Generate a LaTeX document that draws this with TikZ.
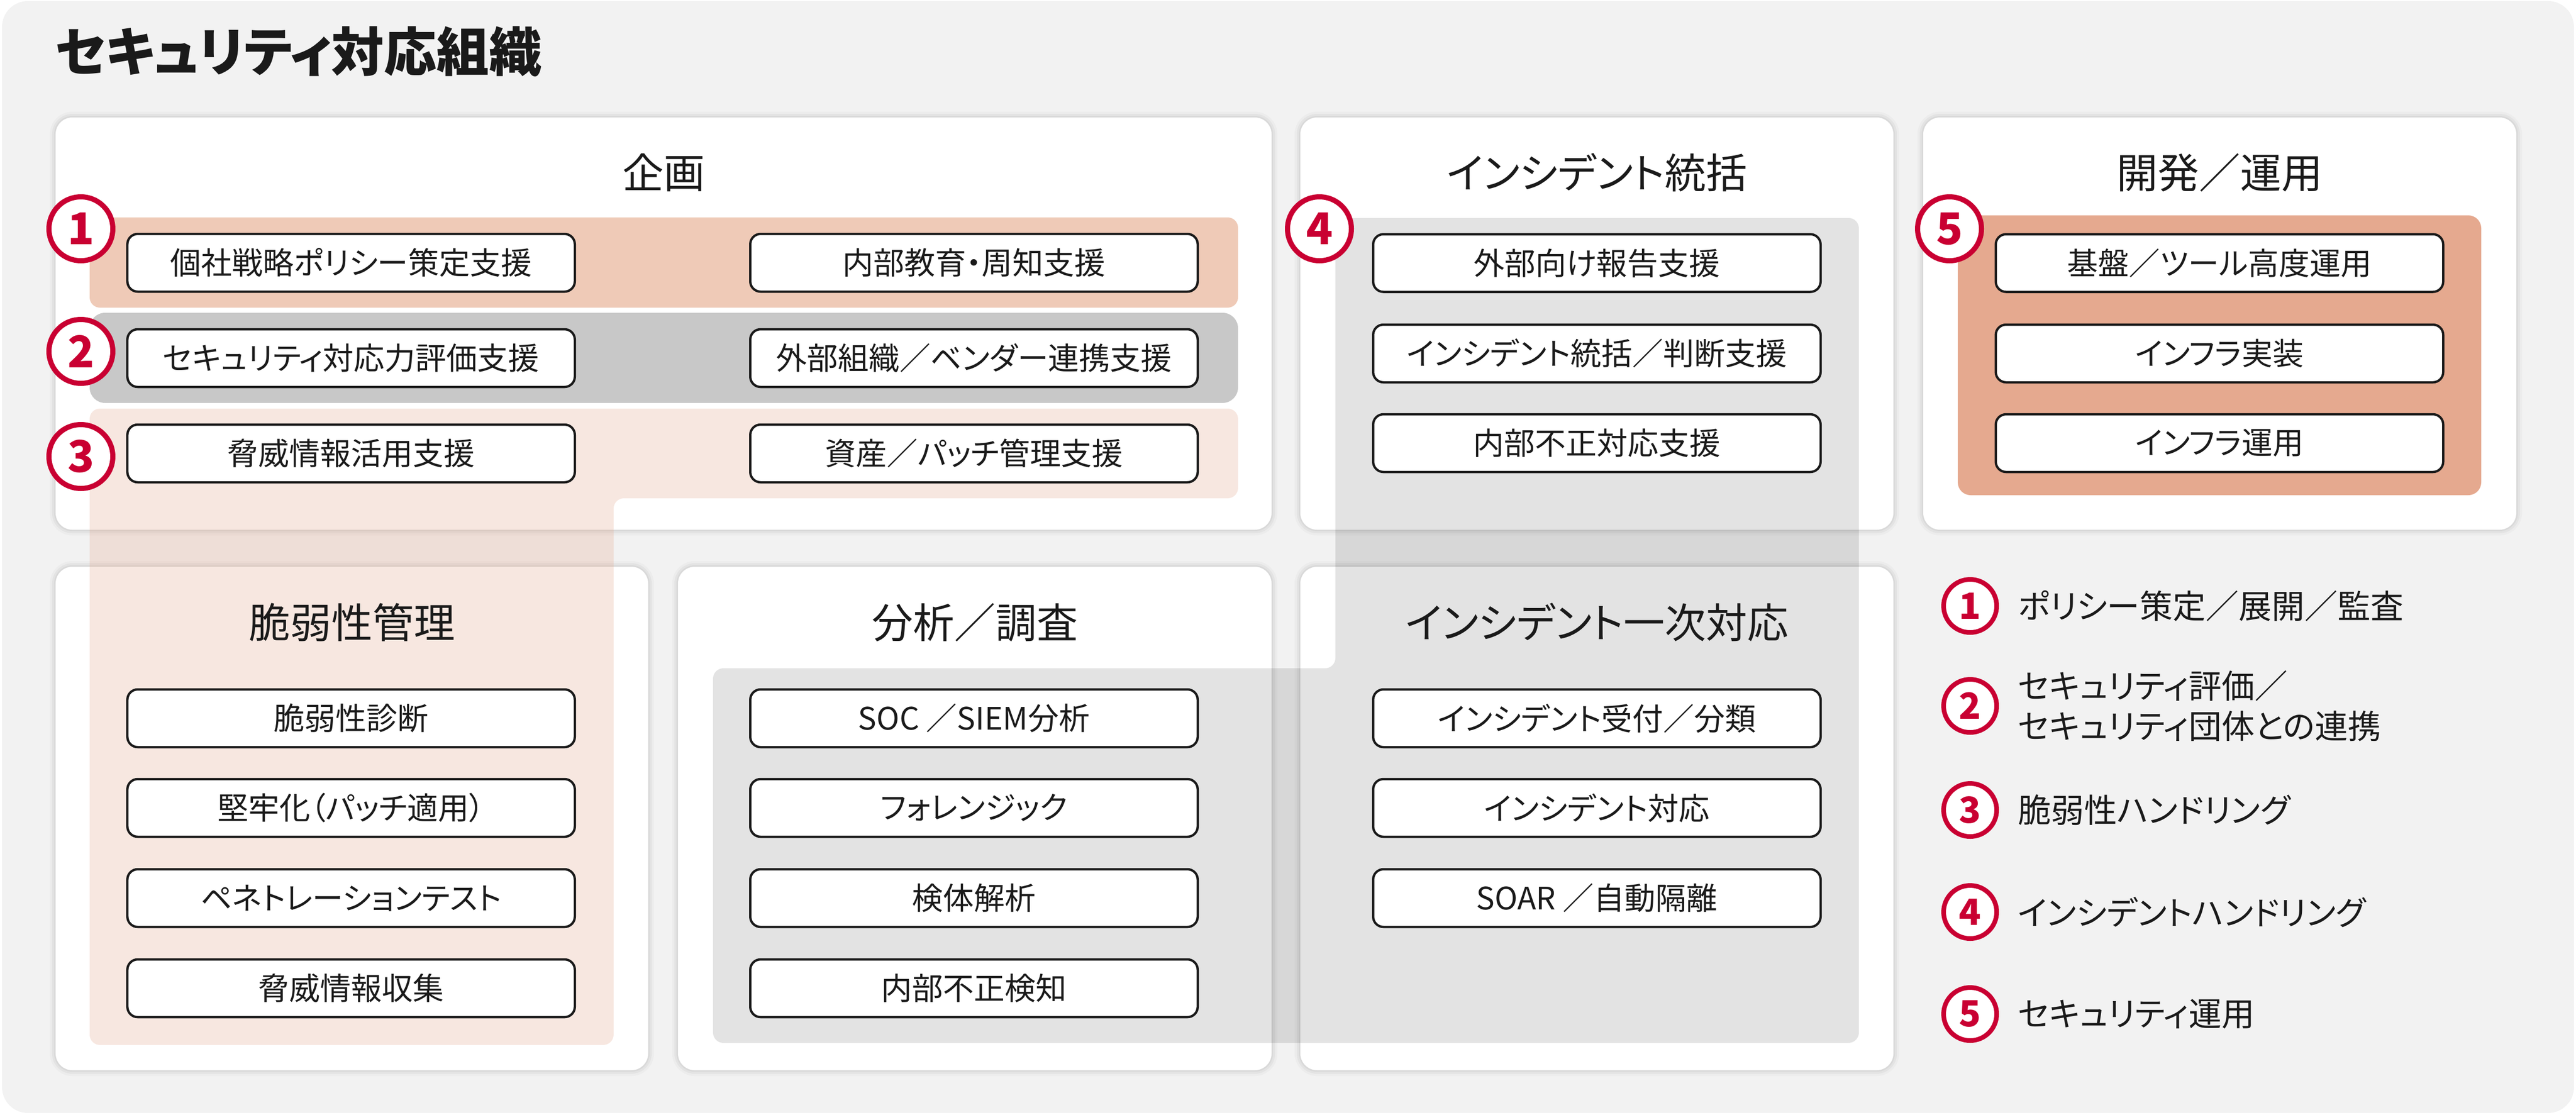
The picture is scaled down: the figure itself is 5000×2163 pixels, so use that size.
\documentclass[tikz,border=0pt]{standalone}
\usepackage{fontspec}
\setmainfont{Noto Sans CJK JP}[RawFeature=+palt]
\definecolor{bgc}{HTML}{F2F2F2}
\definecolor{ink}{HTML}{1A1A1A}
\definecolor{accent}{HTML}{C90032}
\definecolor{bandA}{HTML}{EFCAB7}
\definecolor{bandB}{HTML}{C8C8C8}
\definecolor{salmon}{HTML}{E5A98F}
\begin{document}
\begin{tikzpicture}[x=0.2pt,y=-0.2pt,
  panel/.style={fill=white, rounded corners=6.5pt, inner sep=0pt, outer sep=0pt,
    preaction={draw=black, draw opacity=0.025, line width=4.5pt},
    preaction={draw=black, draw opacity=0.035, line width=2.8pt},
    preaction={draw=black, draw opacity=0.045, line width=1.2pt}},
  ptitle/.style={text=ink, inner sep=0pt, font=\fontsize{16}{19}\selectfont},
  item/.style={draw=ink, line width=0.9pt, fill=white, rounded corners=4pt,
    minimum width=173.7pt, minimum height=22.4pt, inner sep=0pt, text=ink,
    font=\fontsize{12}{14}\selectfont},
  numc/.style={circle, draw=accent, line width=2pt, fill=white, minimum size=24.8pt,
    inner sep=0pt, text=accent, font=\fontsize{17}{17}\selectfont\bfseries},
  legc/.style={circle, draw=accent, line width=1.8pt, fill=white, minimum size=20.6pt,
    inner sep=0pt, text=accent, font=\fontsize{14}{14}\selectfont\bfseries},
  legt/.style={anchor=west, inner sep=0pt, text=ink, align=left,
    font=\fontsize{12.8}{15.6}\selectfont}]
\useasboundingbox (0,0) rectangle (5000,2163);
\fill[bgc, rounded corners=10pt] (4,2) rectangle (4996,2160);

% title
\node[anchor=west, inner sep=0pt, text=ink, font=\fontsize{20.4}{24}\selectfont\bfseries]
  (title) at (106,100) {セキュリティ対応組織};

% panels
\node[panel, minimum width=472pt, minimum height=160pt] (pplan) at (1288,628) {};
\node[panel, minimum width=230.2pt, minimum height=160pt] (pinc) at (3099.5,628) {};
\node[panel, minimum width=230.2pt, minimum height=160pt] (pdev) at (4308.5,628) {};
\node[panel, minimum width=230pt, minimum height=195.4pt] (pvul) at (683,1588.5) {};
\node[panel, minimum width=230.4pt, minimum height=195.4pt] (pana) at (1892,1588.5) {};
\node[panel, minimum width=230.2pt, minimum height=195.4pt] (pfirst) at (3099.5,1588.5) {};

% bands
\fill[bandA, rounded corners=4pt] (174,422) rectangle (2403,597);
\fill[bandB, rounded corners=6pt] (174,607) rectangle (2403,782);
\fill[salmon, rounded corners=5pt] (3800,418) rectangle (4816,961);
\fill[salmon, opacity=0.27, rounded corners=4pt]
  (174,793) -- (2403,793) -- (2403,967) -- (1191,967) -- (1191,2028) -- (174,2028) -- cycle;
\fill[black, opacity=0.11, rounded corners=4pt]
  (2592,423) -- (3608,423) -- (3608,2024) -- (1384,2024) -- (1384,1297) -- (2592,1297) -- cycle;

% panel titles
\node[ptitle] (tplan) at (1288,335) {企画};
\node[ptitle] (tinc) at (3099.5,335) {インシデント統括};
\node[ptitle] (tdev) at (4308.5,335) {開発／運用};
\node[ptitle] (tvul) at (683,1208) {脆弱性管理};
\node[ptitle] (tana) at (1892,1208) {分析／調査};
\node[ptitle] (tfirst) at (3099.5,1208) {インシデント一次対応};

% planning boxes
\node[item] (a1) at (681.5,510) {個社戦略ポリシー策定支援};
\node[item] (a2) at (1890.5,510) {内部教育・周知支援};
\node[item] (a3) at (681.5,695) {セキュリティ対応力評価支援};
\node[item] (a4) at (1890.5,695) {外部組織／ベンダー連携支援};
\node[item] (a5) at (681.5,880) {脅威情報活用支援};
\node[item] (a6) at (1890.5,880) {資産／パッチ管理支援};

% incident control
\node[item] (b1) at (3099.5,510.5) {外部向け報告支援};
\node[item] (b2) at (3099.5,686) {インシデント統括／判断支援};
\node[item] (b3) at (3099.5,860) {内部不正対応支援};

% dev/ops
\node[item] (c1) at (4308,510.5) {基盤／ツール高度運用};
\node[item] (c2) at (4308,686) {インフラ実装};
\node[item] (c3) at (4308,860) {インフラ運用};

% vulnerability
\node[item] (d1) at (681.5,1394) {脆弱性診断};
\node[item] (d2) at (681.5,1568) {堅牢化（パッチ適用）};
\node[item] (d3) at (681.5,1743) {ペネトレーションテスト};
\node[item] (d4) at (681.5,1918) {脅威情報収集};

% analysis
\node[item] (e1) at (1890.5,1394) {SOC ／SIEM分析};
\node[item] (e2) at (1890.5,1568) {フォレンジック};
\node[item] (e3) at (1890.5,1743) {検体解析};
\node[item] (e4) at (1890.5,1918) {内部不正検知};

% first response
\node[item] (f1) at (3099.5,1394) {インシデント受付／分類};
\node[item] (f2) at (3099.5,1568) {インシデント対応};
\node[item] (f3) at (3099.5,1743) {SOAR ／自動隔離};

% numbered circles
\node[numc] (n1) at (157,444) {1};
\node[numc] (n2) at (157,682) {2};
\node[numc] (n3) at (157,886) {3};
\node[numc] (n4) at (2561,444) {4};
\node[numc] (n5) at (3784,444) {5};

% legend
\node[legc] (l1) at (3824,1176) {1};
\node[legc] (l2) at (3824,1370) {2};
\node[legc] (l3) at (3824,1572) {3};
\node[legc] (l4) at (3824,1770) {4};
\node[legc] (l5) at (3824,1968) {5};
\node[legt] (lt1) at (3916,1176) {ポリシー策定／展開／監査};
\node[legt] (lt2) at (3916,1370) {セキュリティ評価／\\セキュリティ団体との連携};
\node[legt] (lt3) at (3916,1572) {脆弱性ハンドリング};
\node[legt] (lt4) at (3916,1770) {インシデントハンドリング};
\node[legt] (lt5) at (3916,1968) {セキュリティ運用};
\end{tikzpicture}
\end{document}
